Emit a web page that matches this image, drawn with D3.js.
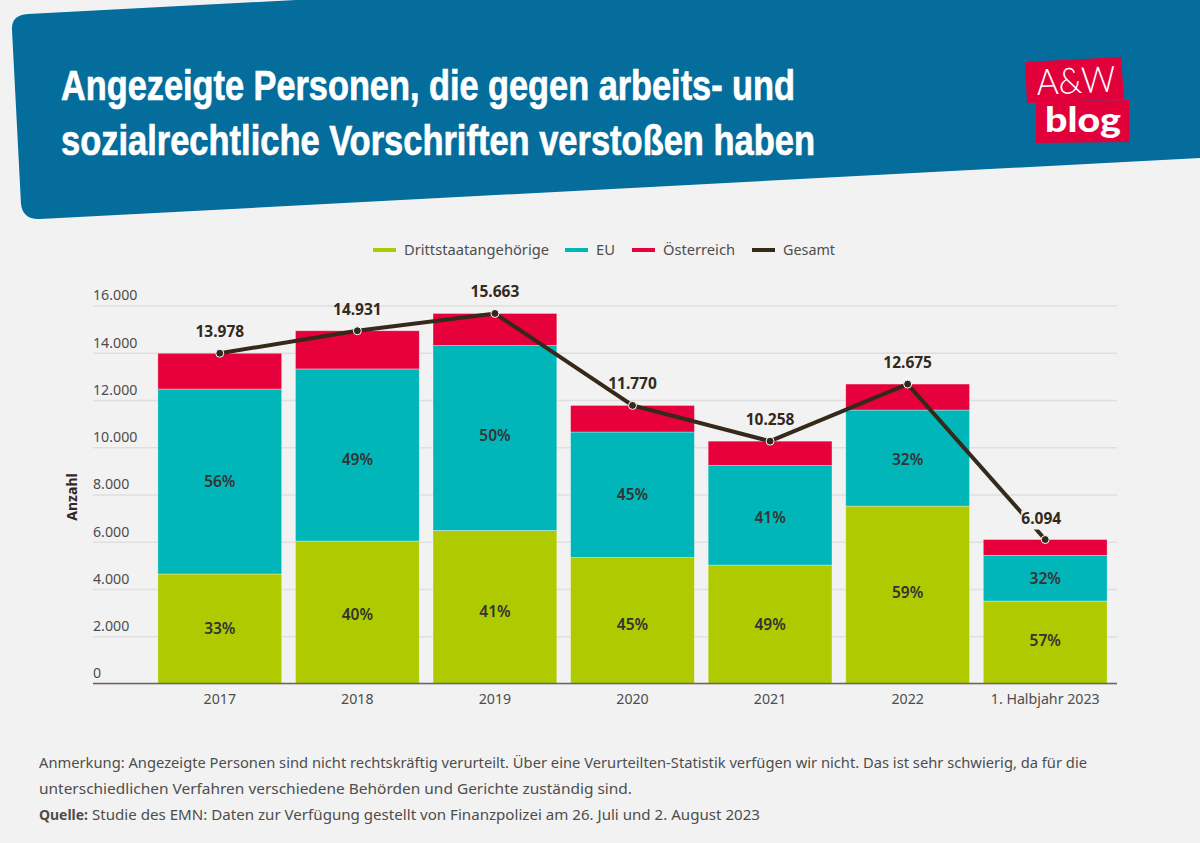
<!DOCTYPE html>
<html lang="de">
<head>
<meta charset="utf-8">
<script src="https://cdn.jsdelivr.net/npm/d3@7"></script>
<style>
  html, body { margin: 0; padding: 0; background: #f2f2f2; }
  svg { display: block; }
  text { font-family: "Noto Sans", sans-serif; }
  .title { font-family: "Liberation Sans Narrow", "Liberation Sans", sans-serif; font-weight: 700; font-size: 42px; fill: #fff; stroke: #fff; stroke-width: 0.7; }
  .note { font-size: 15px; fill: #4d4d4d; }
  .legend-label { font-size: 15px; fill: #4d4d4d; }
  .y-axis text, .x-axis text { font-family: "Noto Sans", sans-serif; font-size: 14.2px; fill: #4d4d4d; }
  .y-axis .domain, .x-axis .domain { display: none; }
  .y-axis line { stroke: #dfdfdf; stroke-width: 1.5; }
  .x-axis line { display: none; }
  .share { font-size: 15.5px; font-weight: 600; fill: #333; text-anchor: middle; }
  .total { font-size: 15.5px; font-weight: 700; fill: #33291c; text-anchor: middle; }
</style>
</head>
<body>
<div id="chart"></div>
<script>
// chart values
const categories = ["2017", "2018", "2019", "2020", "2021", "2022", "1. Halbjahr 2023"];
const drittstaat = [4635, 6030, 6475, 5330, 5015, 7510, 3490];
const eu = [7830, 7285, 7830, 5315, 4210, 4065, 1930];
const oesterreich = [1513, 1616, 1358, 1125, 1033, 1100, 674];
const gesamt = [13978, 14931, 15663, 11770, 10258, 12675, 6094];
const shareDrittstaat = ["33%", "40%", "41%", "45%", "49%", "59%", "57%"];
const shareEu = ["56%", "49%", "50%", "45%", "41%", "32%", "32%"];
const yTicks = [0, 2000, 4000, 6000, 8000, 10000, 12000, 14000, 16000];
const seriesNames = ["Drittstaatangehörige", "EU", "Österreich", "Gesamt"];
const colors = ["#afca00", "#00b6b8", "#e6003c", "#35291a"];

const width = 1200, height = 843;
const deFormat = d => String(d).replace(/\B(?=(\d{3})+$)/g, ".");

const svg = d3.select("#chart").append("svg")
    .attr("width", width)
    .attr("height", height)
    .attr("viewBox", [0, 0, width, height]);

svg.append("rect").attr("width", width).attr("height", height).attr("fill", "#f2f2f2");

// header band
svg.append("path")
    .attr("fill", "#046d9b")
    .attr("d", "M12,30 Q11,15 28,14 L296,0 L1200,0 L1200,158 L40,219 Q23,220 21,204 Z");

// text helper: stretches to the width measured in the reference
function label(x, y, str, len, cls) {
    return svg.append("text")
        .attr("x", x).attr("y", y)
        .attr("class", cls)
        .attr("textLength", len)
        .attr("lengthAdjust", "spacingAndGlyphs")
        .text(str);
}

label(61, 100, "Angezeigte Personen, die gegen arbeits- und", 734, "title");
label(61, 155, "sozialrechtliche Vorschriften verstoßen haben", 754, "title");

// logo
svg.append("path").attr("fill", "#e2003b").attr("d", "M1025,62 L1121,57 L1124,99 L1027,103 Z");
svg.append("path").attr("fill", "#e2003b").attr("d", "M1036,101 L1129,100 L1129,142 L1036,143 Z");
svg.append("text").attr("x", 1037).attr("y", 95)
    .attr("textLength", 79)
    .attr("lengthAdjust", "spacingAndGlyphs")
    .attr("transform", "rotate(-2.5 1037 95)")
    .attr("fill", "#fff")
    .style("font-family", "'Lato', sans-serif")
    .style("font-weight", 300)
    .style("font-size", "36px")
    .text("A&W");
svg.append("text").attr("x", 1045).attr("y", 132)
    .attr("textLength", 76)
    .attr("lengthAdjust", "spacingAndGlyphs")
    .attr("fill", "#fff")
    .style("font-family", "'Lato', sans-serif")
    .style("font-weight", 900)
    .style("font-size", "35px")
    .text("blog");

// scales
const x = d3.scaleBand()
    .domain(categories)
    .range([151, 1114])
    .paddingInner(0.1)
    .paddingOuter(0.05);

const y = d3.scaleLinear()
    .domain([0, 16000])
    .range([683.5, 305.5]);

// y axis, labels sit left aligned on top of the grid lines
svg.append("g")
    .attr("class", "y-axis")
    .attr("transform", "translate(1117,0)")
    .call(d3.axisLeft(y).tickValues(yTicks).tickSize(1024).tickFormat(deFormat))
    .call(g => g.selectAll("text")
        .attr("x", -1024)
        .attr("dy", "-0.4em")
        .attr("text-anchor", "start"));

// stacks
const rows = categories.map((c, i) => ({
    cat: c,
    [seriesNames[0]]: drittstaat[i],
    [seriesNames[1]]: eu[i],
    [seriesNames[2]]: oesterreich[i]
}));
const stacked = d3.stack().keys(seriesNames.slice(0, 3))(rows);

svg.append("g").selectAll("g")
    .data(stacked)
    .join("g")
    .attr("fill", (d, i) => colors[i])
    .selectAll("rect")
    .data(d => d)
    .join("rect")
    .attr("x", d => x(d.data.cat))
    .attr("y", d => y(d[1]))
    .attr("width", x.bandwidth())
    .attr("height", d => y(d[0]) - y(d[1]))
    .attr("stroke", "#fff")
    .attr("stroke-opacity", 0.45)
    .attr("stroke-width", 0.75);

// baseline
svg.append("line")
    .attr("x1", 93).attr("x2", 1117)
    .attr("y1", y(0)).attr("y2", y(0))
    .attr("stroke", "#666")
    .attr("stroke-width", 1.5);

// share labels, the original does not centre them exactly in the segment
const nudges = [[0, 2, 5, 4, 0, -2, -2], [0, 5, -2, 0, 2, 2, 0]];
[[0, shareDrittstaat], [1, shareEu]].forEach(([s, shares]) => {
    svg.append("g").selectAll("text")
        .data(stacked[s])
        .join("text")
        .attr("class", "share")
        .attr("x", d => x(d.data.cat) + x.bandwidth() / 2)
        .attr("y", (d, i) => (y(d[0]) + y(d[1])) / 2 + nudges[s][i])
        .attr("dy", "0.35em")
        .text((d, i) => shares[i]);
});

// total line
const points = categories.map((c, i) => ({ cat: c, value: gesamt[i] }));
const line = d3.line()
    .x(d => x(d.cat) + x.bandwidth() / 2)
    .y(d => y(d.value));

svg.append("path")
    .datum(points)
    .attr("d", line)
    .attr("fill", "none")
    .attr("stroke", colors[3])
    .attr("stroke-width", 4);

// total labels with a background plate, it cuts the line at the last point
const totals = svg.append("g").selectAll("g")
    .data(points)
    .join("g")
    .attr("transform", (d, i) => `translate(${x(d.cat) + x.bandwidth() / 2 - (i === 6 ? 4 : 0)},${y(d.value) - 16})`);

totals.append("rect")
    .attr("x", -20).attr("y", -13)
    .attr("width", 42).attr("height", 19)
    .attr("fill", "#f2f2f2")
    .attr("opacity", (d, i) => i === 6 ? 1 : 0);

totals.append("text")
    .attr("class", "total")
    .text(d => deFormat(d.value));

svg.append("g").selectAll("circle")
    .data(points)
    .join("circle")
    .attr("cx", d => x(d.cat) + x.bandwidth() / 2)
    .attr("cy", d => y(d.value))
    .attr("r", 4)
    .attr("fill", colors[3])
    .attr("stroke", "#fff")
    .attr("stroke-width", 1);

// x axis
svg.append("g")
    .attr("class", "x-axis")
    .attr("transform", `translate(0,${y(0)})`)
    .call(d3.axisBottom(x).tickSize(0).tickPadding(10));

// axis title
svg.append("text")
    .attr("transform", "translate(77,497) rotate(-90)")
    .attr("text-anchor", "middle")
    .attr("fill", "#33291c")
    .style("font-size", "14px")
    .style("font-weight", 700)
    .text("Anzahl");

// legend
const legendX = [373, 565, 632, 752];
const legendLen = [145, 19, 72, 52];
seriesNames.forEach((name, i) => {
    svg.append("line")
        .attr("x1", legendX[i]).attr("x2", legendX[i] + 23)
        .attr("y1", 250).attr("y2", 250)
        .attr("stroke", colors[i])
        .attr("stroke-width", 4);
    label(legendX[i] + 31, 255, name, legendLen[i], "legend-label");
});

// footnotes
label(39, 768, "Anmerkung: Angezeigte Personen sind nicht rechtskräftig verurteilt. Über eine Verurteilten-Statistik verfügen wir nicht. Das ist sehr schwierig, da für die", 1048, "note");
label(39, 794, "unterschiedlichen Verfahren verschiedene Behörden und Gerichte zuständig sind.", 593, "note");
label(39, 820, "Quelle:", 49, "note").style("font-weight", 700);
label(92, 820, "Studie des EMN: Daten zur Verfügung gestellt von Finanzpolizei am 26. Juli und 2. August 2023", 668, "note");
</script>
</body>
</html>
